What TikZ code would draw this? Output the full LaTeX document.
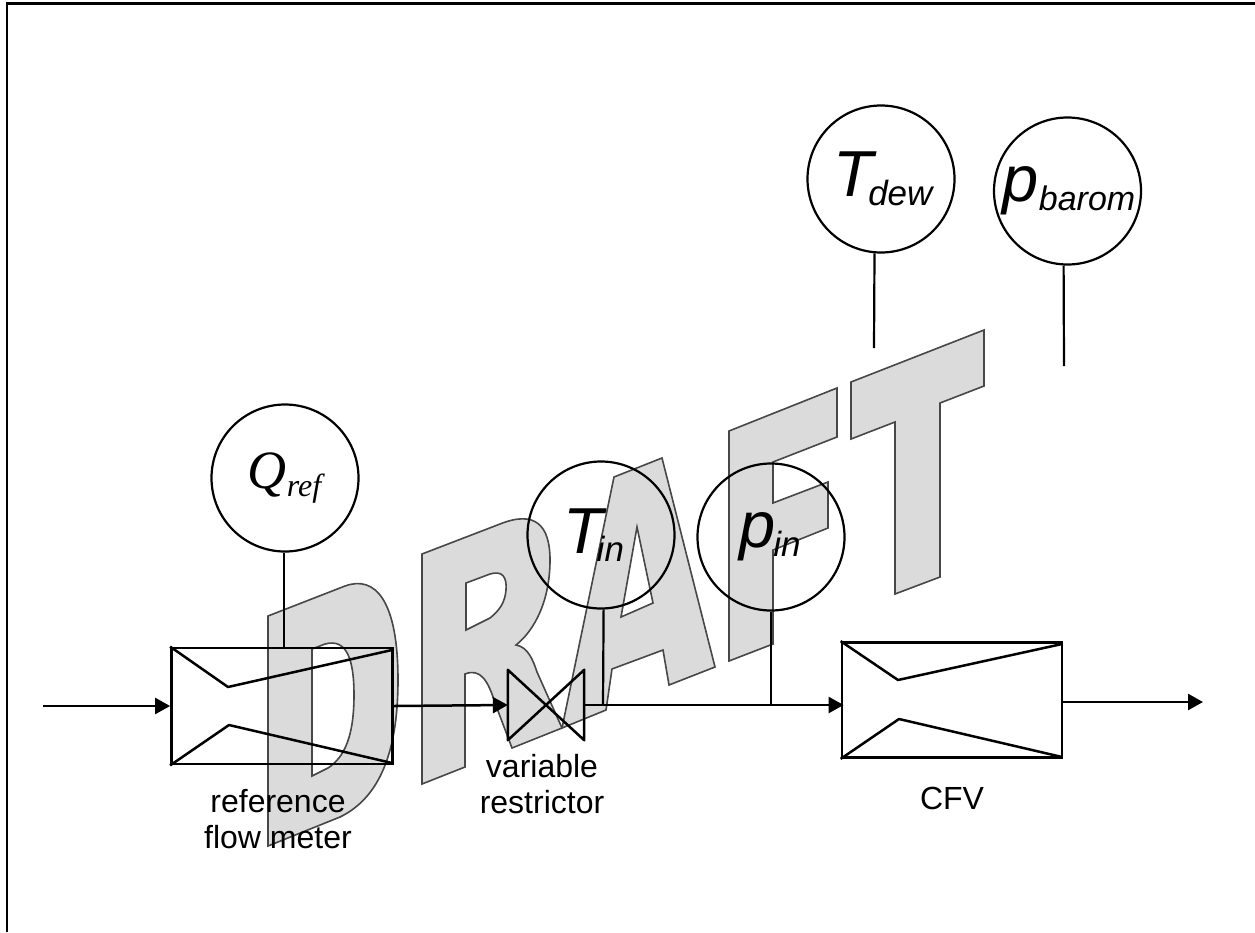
\documentclass[tikz,border=0pt]{standalone}
\usepackage{fontspec}
\setmainfont{Liberation Sans}
\newfontfamily\qfont{Liberation Serif}
\usetikzlibrary{arrows.meta, positioning}

\newcommand{\sensortext}[3][8.5pt]{{\fontsize{65}{65}\selectfont\itshape #2}{\fontsize{35}{35}\selectfont\itshape\raisebox{-#1}{#3}}}

\begin{document}
\begin{tikzpicture}[
            x=1pt, y=-1pt,
            letter/.style ={draw=black!72, fill=black!14, line width=1.6pt, even odd rule},
            frameline/.style={line width=2.3pt},
            sensor/.style ={circle, draw, line width=2.2pt, minimum size=147pt, inner sep=0pt},
            meter/.style  ={rectangle, draw, line width=2.8pt, inner sep=0pt},
            restrict/.style={rectangle, minimum width=76pt, minimum height=70pt, inner sep=0pt},
            throat/.style ={line width=2.5pt, line join=round},
            lead/.style   ={line width=2.2pt},
            arr/.style    ={-{Triangle[length=15pt, width=16pt]}, line width=2.5pt},
            caption/.style={align=center, font=\fontsize{32}{36}\selectfont}
        ]
            \useasboundingbox (0,0) rectangle (1255,932);

            % watermark
            \draw[letter] (268,616) -- (345,586) .. controls (375,575) and (398,600) .. (398,680)
                  .. controls (398,760) and (375,800) .. (340,817) -- (268,846) -- cycle
                  (312,649) -- (325,644) .. controls (347,638) and (354,660) .. (354,695)
                  .. controls (354,735) and (345,757) .. (328,768) -- (312,776) -- cycle;
            \draw[letter] (422,554) -- (500,524) .. controls (535,510) and (550,525) .. (550,560)
                  .. controls (550,600) and (535,630) .. (516,645)
                  .. controls (528,647) and (533,660) .. (537,672) -- (562,728) -- (512,748)
                  -- (495,703) .. controls (488,680) and (480,668) .. (465,674)
                  -- (465,767) -- (422,784) -- cycle
                  (466,583) -- (490,574) .. controls (503,570) and (507,578) .. (506,590)
                  .. controls (505,602) and (500,610) .. (490,618) -- (466,630) -- cycle;
            \draw[letter] (562,728) -- (614,477) -- (662,458) -- (715,667) -- (669,685) -- (663,650)
                  -- (612,669) -- (606,710) -- cycle
                  (637,527) -- (653,603) -- (621,617) -- cycle;
            \draw[letter] (729,431) -- (837,388) -- (837,437) -- (773,462) -- (773,503) -- (828,482)
                  -- (828,528) -- (773,550) -- (773,644) -- (729,661) -- cycle;
            \draw[letter] (851,382) -- (984,330) -- (984,386) -- (940,403) -- (940,577) -- (895,594)
                  -- (895,422) -- (851,439) -- cycle;

            \draw[frameline] (7,932) -- (7,3.5) -- (1255,3.5);

            % sensors
            \node[sensor] (qref)   at (285,478)   {\raisebox{10pt}{\hspace{-1pt}{\qfont\itshape\fontsize{54}{54}\selectfont Q}{\qfont\itshape\fontsize{32}{32}\selectfont\raisebox{-8pt}{ref}}}};
            \node[sensor] (tin)    at (601,535)   {\raisebox{5pt}{\hspace{-15pt}\sensortext{T\kern-6pt}{in}}};
            \node[sensor] (pin)    at (771,537)   {\raisebox{3pt}{\hspace{-2pt}\sensortext{p\kern-2pt}{in}}};
            \node[sensor] (tdew)   at (881,179)   {\hspace{4pt}\sensortext{T\kern-5pt}{dew}};
            \node[sensor] (pbarom) at (1067.5,191){\hspace{3pt}{\fontsize{65}{65}\selectfont\itshape p}{\fontsize{34}{34}\selectfont\itshape\raisebox{-9pt}{barom}}};

            % line parts
            \node[meter, minimum width=221pt, minimum height=116pt] (flowmeter) at (282,706) {};
            \node[restrict] (restrictor) at (546,705) {};
            \node[meter, minimum width=220pt, minimum height=115pt] (cfv) at (952,700) {};

            \coordinate (inlet)   at (43,706);
            \coordinate (outlet)  at (1203,702);
            \coordinate (tdewend) at (874,348);
            \coordinate (pbarend) at (1064,366);
            \coordinate (tintap)  at (603,705);
            \coordinate (pintap)  at (771,705);

            \draw[throat] (flowmeter.north west) -- (228,687) -- (392,650);
            \draw[throat] (flowmeter.south west) -- (229,725) -- (392,763);
            \draw[throat] (cfv.north west) -- (898,680) -- (1062,644);
            \draw[throat] (cfv.south west) -- (899,719) -- (1062,757);
            \draw[throat] (restrictor.north west) -- (restrictor.south east)
                  -- (restrictor.north east) -- (restrictor.south west) -- cycle;

            \draw[arr] (inlet) -- (flowmeter.west);
            \draw[arr] (flowmeter.east) -- (restrictor.west);
            \draw[arr, shorten >=-3pt] (restrictor.east) -- (restrictor.east -| cfv.west);
            \draw[arr] (cfv.east |- outlet) -- (outlet);

            \draw[lead] (qref.269) -- (qref.269 |- flowmeter.north);
            \draw[lead] (tin.272) -- (tintap);
            \draw[lead] (pin.south) -- (pintap);
            \draw[lead] (tdew.265) -- (tdewend);
            \draw[lead] (pbarom.267) -- (pbarend);

            % labels
            \node[caption] (flowlabel)  at (278,819) {reference\\flow meter};
            \node[caption] (restlabel)  at (542,784) {variable\\restrictor};
            \node[caption] (cfvlabel)   at (952,798) {CFV};
        \end{tikzpicture}
\end{document}
